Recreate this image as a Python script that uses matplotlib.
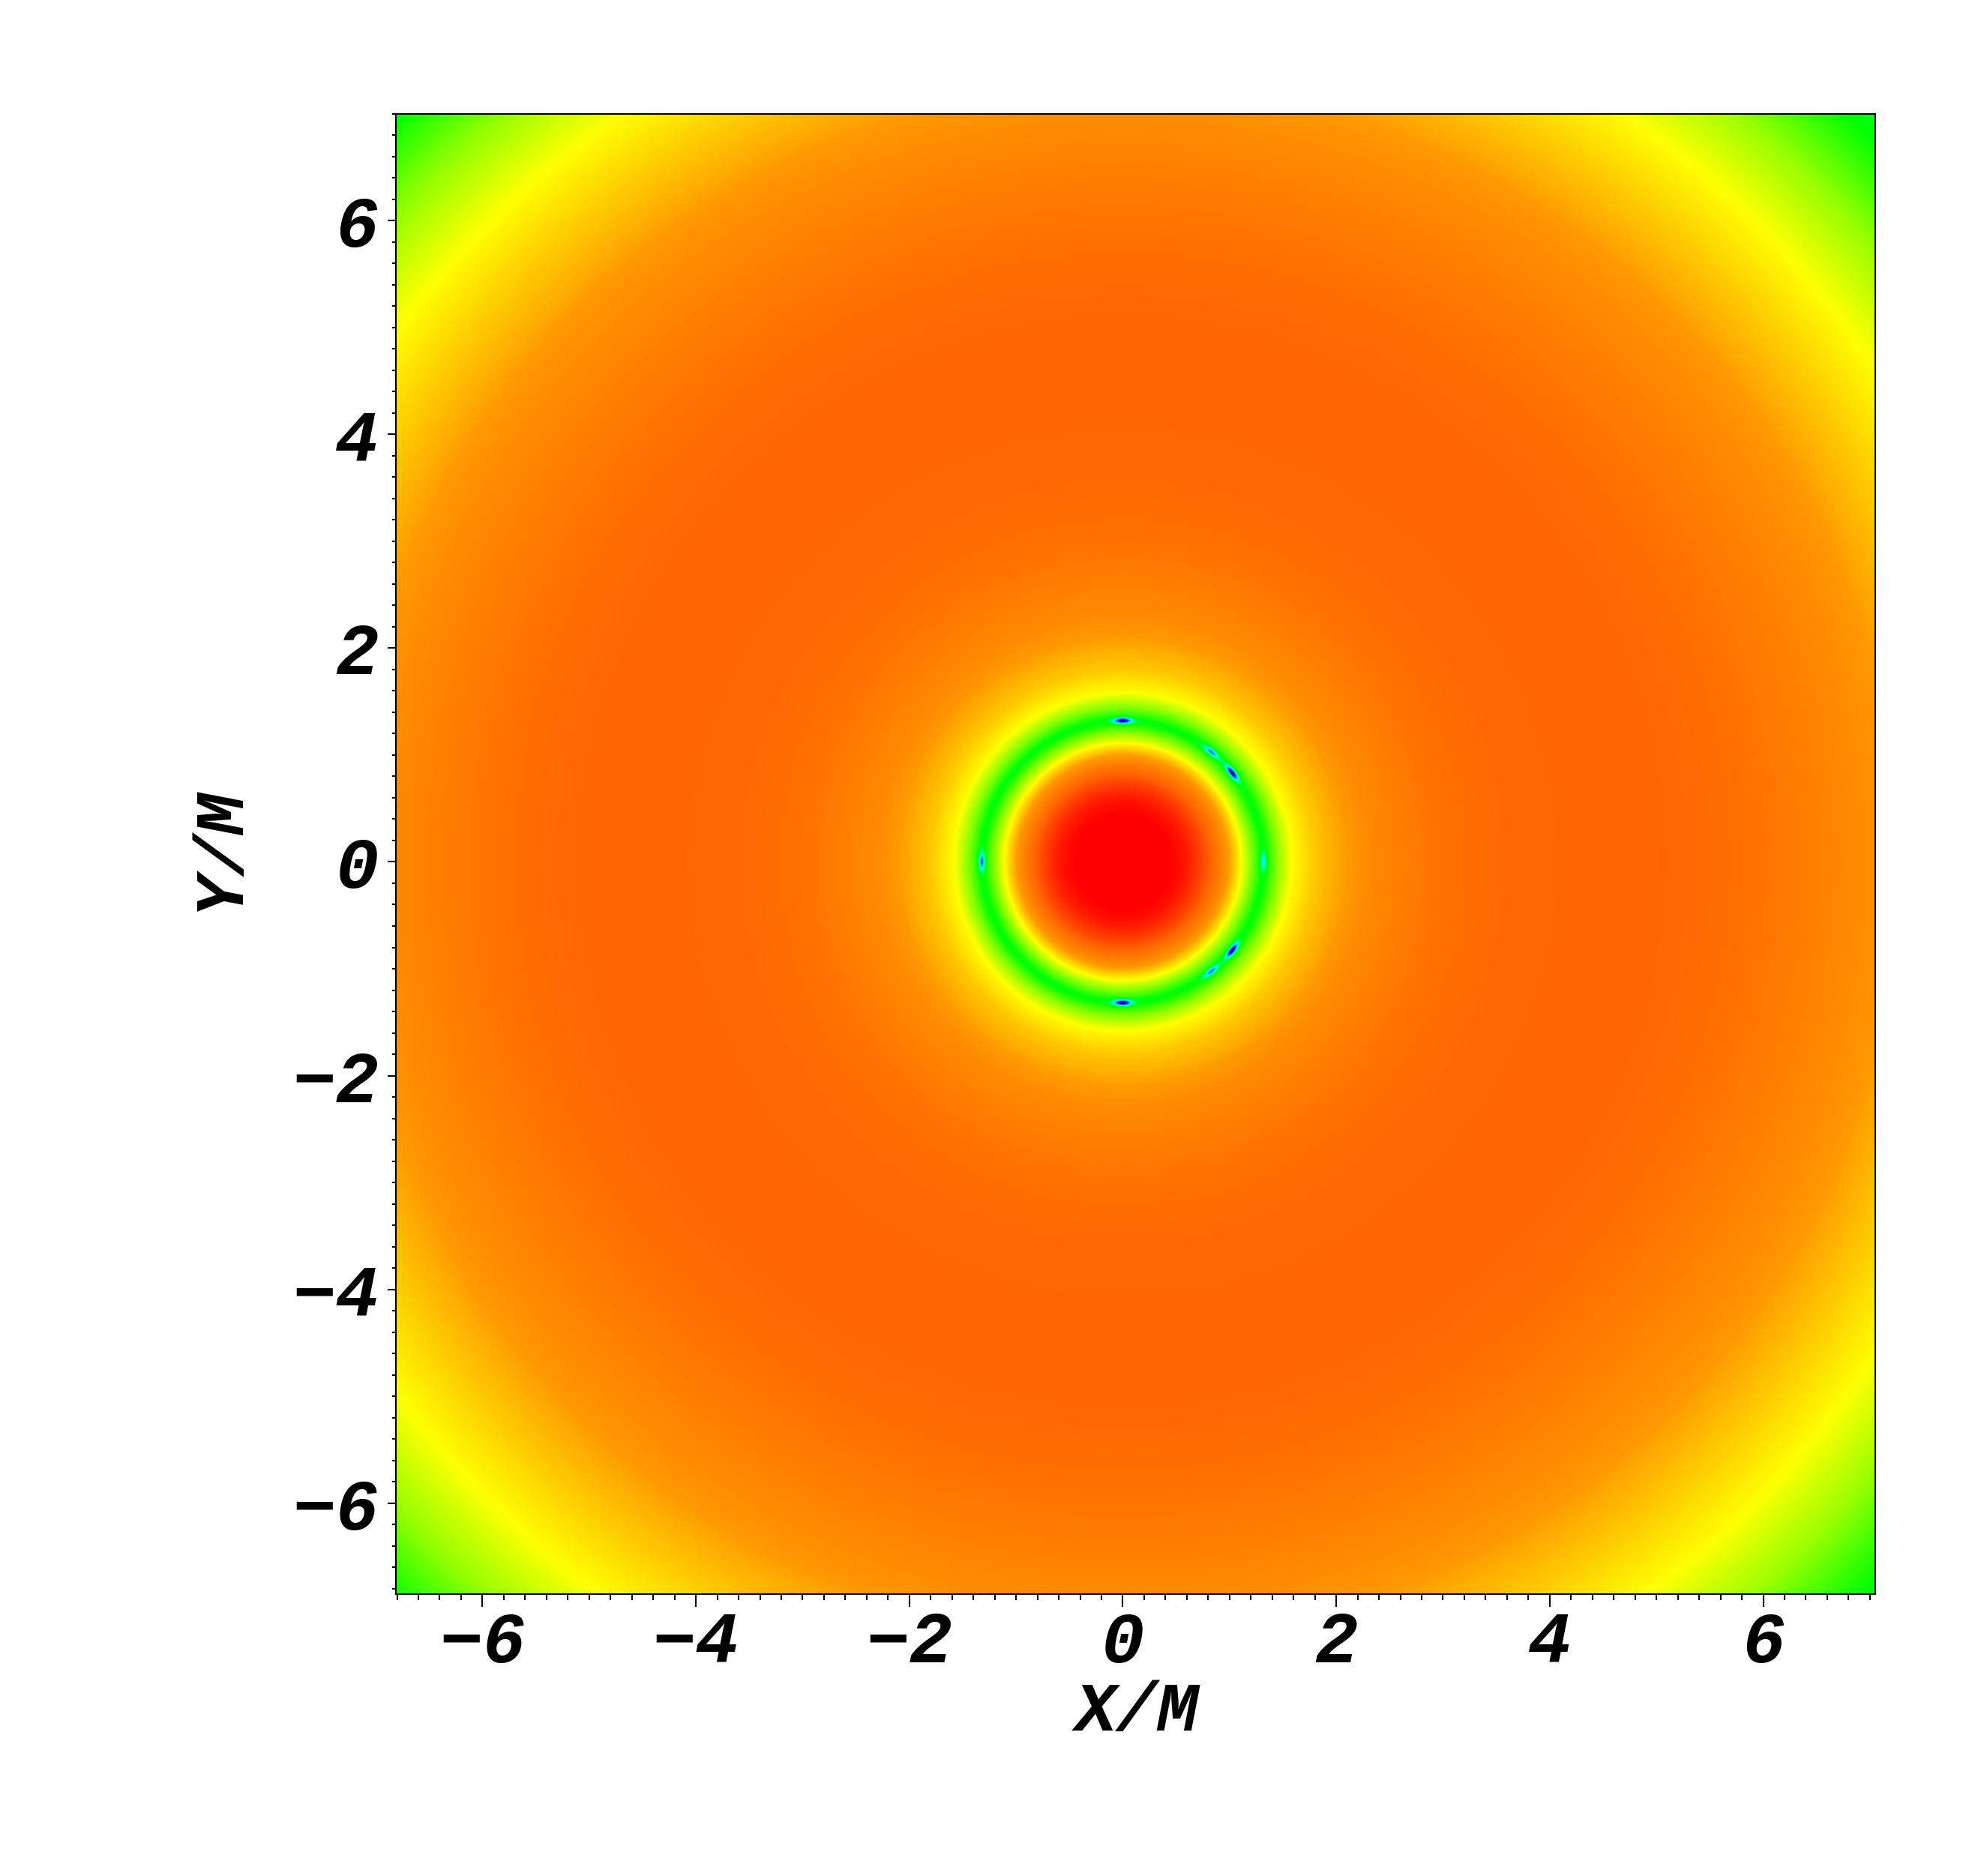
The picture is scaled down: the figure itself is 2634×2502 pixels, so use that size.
# Radial field map around a ring (X/M, Y/M)
import matplotlib
matplotlib.use("Agg")
import matplotlib.pyplot as plt
import numpy as np
from matplotlib.colors import LinearSegmentedColormap
from matplotlib.ticker import MultipleLocator

# === Data ===
# radial profile: radius (in M) and colour level (0 = blue ... 1 = red)
r_nodes = [0.0, 0.45, 0.6, 0.75, 0.9, 1.0, 1.11, 1.2, 1.27, 1.32, 1.37, 1.45,
           1.58, 1.8, 2.3, 3.0, 3.6, 4.3, 5.0, 5.8, 6.5, 7.0, 7.8, 8.43, 9.07,
           9.76, 10.2]
level_nodes = [1.0, 1.0, 0.95, 0.86, 0.74, 0.64, 0.5, 0.41, 0.335, 0.29, 0.335, 0.41,
               0.5, 0.58, 0.69, 0.765, 0.79, 0.8, 0.8, 0.77, 0.72, 0.68, 0.58, 0.5, 0.42,
               0.3, 0.26]

# dark spots sitting on the ring: angle (deg) and lowest level reached
ring_radius = 1.32
spot_angles = [90, 51, 39, -39, -51, -90, 180, 0]
spot_levels = [0.0, 0.1, 0.0, 0.0, 0.1, 0.0, 0.09, 0.16]

# colour scale stops
cmap_colors = ['#000080', '#0000ff', '#00ffff', '#00ff00', '#ffff00',
               '#ff9900', '#ff6600', '#ff0000']
cmap_stops = [0.0, 0.06, 0.17, 0.3, 0.5, 0.65, 0.8, 1.0]

x_range = (-6.81, 7.05)
y_range = (-6.85, 7.0)

# === Style Configuration ===
plt.rcParams.update({
    'font.family': 'Liberation Mono',
    'font.weight': 'bold',
    'font.style': 'italic',
    'font.size': 23,
    'axes.labelweight': 'bold',
    'axes.linewidth': 0.5,
    'xtick.direction': 'out',
    'ytick.direction': 'out',
    'xtick.major.size': 4.0,
    'xtick.minor.size': 2.0,
    'ytick.major.size': 2.6,
    'ytick.minor.size': 1.3,
    'xtick.major.width': 0.5,
    'xtick.minor.width': 0.5,
    'ytick.major.width': 0.5,
    'ytick.minor.width': 0.5,
})

# === Build field ===
n = 2000
xs = np.linspace(x_range[0], x_range[1], n)
ys = np.linspace(y_range[0], y_range[1], n)
X, Y = np.meshgrid(xs, ys)
R = np.hypot(X, Y)
T = np.arctan2(Y, X)

field = np.interp(R, r_nodes, level_nodes)
ring_level = np.interp(ring_radius, r_nodes, level_nodes)
for ang, lev in zip(spot_angles, spot_levels):
    dth = np.angle(np.exp(1j * (T - np.deg2rad(ang))))
    ds = ring_radius * dth
    dr = R - ring_radius
    field -= (ring_level - lev) * np.exp(-(dr**2 / (2 * 0.02**2) + ds**2 / (2 * 0.06**2)))

cmap = LinearSegmentedColormap.from_list('ring', list(zip(cmap_stops, cmap_colors)))

# === Figure ===
fig = plt.figure(figsize=(8.78, 8.34), dpi=300)
ax = fig.add_axes([0.2005, 0.1503, 0.7490, 0.7891])
ax.imshow(field, cmap=cmap, vmin=0, vmax=1, origin='lower',
          extent=[x_range[0], x_range[1], y_range[0], y_range[1]],
          aspect='auto', interpolation='bilinear')
ax.set_xlim(*x_range)
ax.set_ylim(*y_range)

ax.xaxis.set_major_locator(MultipleLocator(2))
ax.xaxis.set_minor_locator(MultipleLocator(0.2))
ax.yaxis.set_major_locator(MultipleLocator(2))
ax.yaxis.set_minor_locator(MultipleLocator(0.2))
ax.tick_params(axis='x', which='major', pad=1)
ax.tick_params(axis='y', which='major', pad=3)
ax.tick_params(top=False, right=False, which='both')

# === Axis Labels ===
ax.set_xlabel('X/M', fontsize=22)
ax.set_ylabel('Y/M', fontsize=22)
ax.xaxis.set_label_coords(0.501, -0.08)
ax.xaxis.label.set_va('center')
ax.yaxis.set_label_coords(-0.119, 0.503)
ax.yaxis.label.set_va('center')

fig.savefig('out.png', dpi=300)
